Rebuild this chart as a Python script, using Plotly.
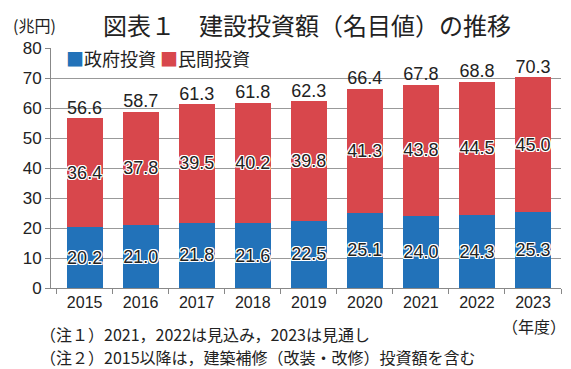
import plotly.graph_objects as go

years = ["2015", "2016", "2017", "2018", "2019", "2020", "2021", "2022", "2023"]
gov = [20.2, 21.0, 21.8, 21.6, 22.5, 25.1, 24.0, 24.3, 25.3]
priv = [36.4, 37.8, 39.5, 40.2, 39.8, 41.3, 43.8, 44.5, 45.0]
total = [56.6, 58.7, 61.3, 61.8, 62.3, 66.4, 67.8, 68.8, 70.3]
y_ticks = [0, 10, 20, 30, 40, 50, 60, 70, 80]
notes = ["（注１）2021，2022は見込み，2023は見通し",
         "（注２）2015以降は，建築補修（改装・改修）投資額を含む"]

BLUE = "#2272b9"
RED = "#d8474c"
NUM_FONT = "Liberation Sans, Arial, sans-serif"
JP_FONT = "Noto Sans CJK JP, sans-serif"
outline = ("-1px -1px 0 #fff, 1px -1px 0 #fff, -1px 1px 0 #fff, 1px 1px 0 #fff, "
           "0 1px 0 #fff, 0 -1px 0 #fff, 1px 0 0 #fff, -1px 0 0 #fff")

fig = go.Figure()
fig.add_trace(go.Bar(
    x=years, y=gov, name="政府投資",
    marker=dict(color=BLUE, line=dict(width=0)),
    texttemplate="%{y:.1f}", textposition="inside", insidetextanchor="middle",
    textangle=0, constraintext="none",
    textfont=dict(family=NUM_FONT, size=18, color="#222", shadow=outline),
    cliponaxis=False, showlegend=False,
))
fig.add_trace(go.Bar(
    x=years, y=priv, name="民間投資",
    marker=dict(color=RED, line=dict(width=0)),
    texttemplate="%{y:.1f}", textposition="inside", insidetextanchor="middle",
    textangle=0, constraintext="none",
    textfont=dict(family=NUM_FONT, size=18, color="#222", shadow=outline),
    cliponaxis=False, showlegend=False,
))
fig.add_trace(go.Scatter(
    x=years, y=total, mode="text", text=[f"{v:.1f}" for v in total],
    textposition="top center", showlegend=False,
    textfont=dict(family=NUM_FONT, size=18, color="#222"),
    cliponaxis=False,
))

W, H = 571, 369
ML, MR, MT, MB = 43, 18, 40, 89

fig.update_layout(
    width=W, height=H,
    margin=dict(l=ML, r=MR, t=MT, b=MB),
    barmode="stack", bargap=0.36,
    plot_bgcolor="white", paper_bgcolor="white",
    showlegend=False,
    xaxis=dict(
        type="category", range=[-0.6, 8.5], automargin=False,
        showline=True, linecolor="#888", linewidth=1,
        ticks="outside", tickson="boundaries", ticklen=5, tickcolor="#888",
        tickfont=dict(family=NUM_FONT, size=16, color="#222"),
        showgrid=False,
    ),
    yaxis=dict(
        range=[0, 80], tickvals=y_ticks, automargin=False,
        showline=True, linecolor="#888", linewidth=1,
        ticks="outside", ticklen=5, tickcolor="#888",
        showgrid=True, gridcolor="#999", gridwidth=1,
        tickfont=dict(family=NUM_FONT, size=17, color="#222"),
        zeroline=False,
    ),
)

pw = W - ML - MR
ph = H - MT - MB
def px(xp):
    return (xp - ML) / pw
def py(yp):
    return (H - MB - yp) / ph

def ann(text, xp, yp, size, anchor="left"):
    fig.add_annotation(text=text, x=px(xp), y=py(yp), xref="paper", yref="paper",
                       showarrow=False, xanchor=anchor, yanchor="middle", align="left",
                       font=dict(family=JP_FONT, size=size, color="#222"))

ann("(兆円)", 3, 17, 16)
ann("図表１　建設投資額（名目値）の推移", 93, 17, 24)
ann(f"<span style='color:{BLUE}'>■</span>政府投資 <span style='color:{RED}'>■</span>民間投資", 56, 50, 18)
ann("（年度）", 526, 318, 16, anchor="center")
ann(notes[0], 30, 326, 16)
ann(notes[1], 30, 349, 16)

fig.write_html("out.html")
